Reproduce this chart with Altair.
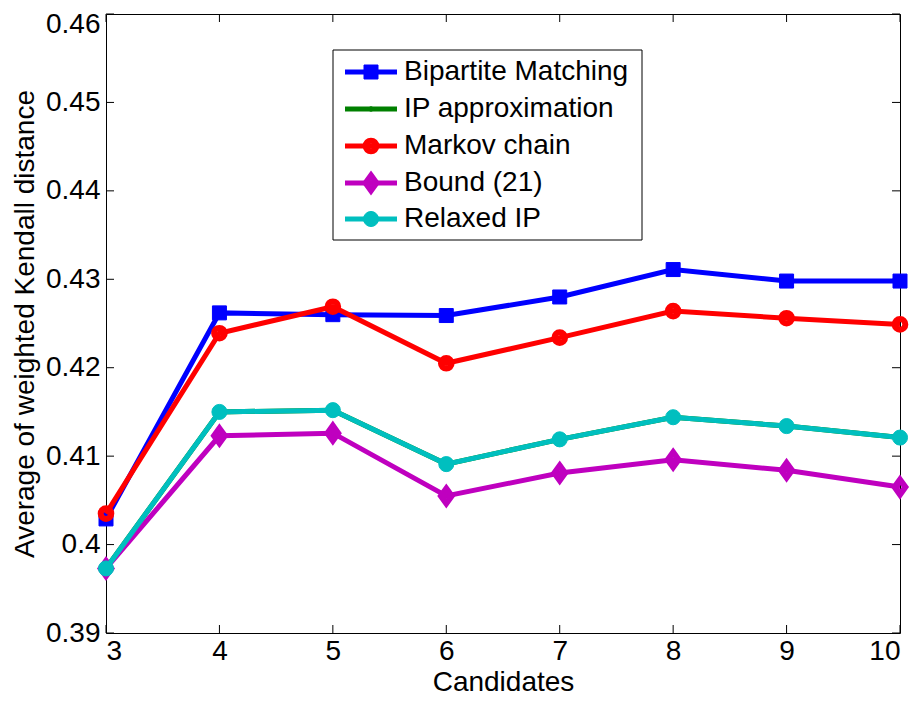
import altair as alt
import pandas as pd

# ---------------- data ----------------
candidates = [3, 4, 5, 6, 7, 8, 9, 10]
series_names = ["Bipartite Matching", "IP approximation", "Markov chain", "Bound (21)", "Relaxed IP"]
bipartite = [0.4029, 0.4262, 0.4260, 0.4259, 0.4280, 0.4311, 0.4298, 0.4298]
ip_approx = [0.3973, 0.4150, 0.4152, 0.4091, 0.4119, 0.4144, 0.4134, 0.4121]
markov = [0.4035, 0.4239, 0.4269, 0.4205, 0.4234, 0.4264, 0.4256, 0.4249]
bound21 = [0.3973, 0.4123, 0.4126, 0.4055, 0.4081, 0.4096, 0.4084, 0.4065]
relaxed = [0.3973, 0.4150, 0.4152, 0.4091, 0.4119, 0.4144, 0.4134, 0.4121]
y_ticks = [0.39, 0.40, 0.41, 0.42, 0.43, 0.44, 0.45, 0.46]
x_ticks = [3, 4, 5, 6, 7, 8, 9, 10]

values = [bipartite, ip_approx, markov, bound21, relaxed]
colors = ["#0000ff", "#008000", "#ff0000", "#bf00bf", "#00bfbf"]

# marker styles: (shape, size, filled, strokeWidth)
DIAMOND = "M0,-1L0.72,0L0,1L-0.72,0Z"
styles = [
    ("square", 196, True, 1),
    ("circle", 20, True, 1),
    ("circle", 113, False, 6),
    (DIAMOND, 219, False, 6),
    ("circle", 227, True, 1),
]

W, H = 794, 619
FONT = "Liberation Sans"
FS = 28

xscale = alt.Scale(domain=[3, 10], nice=False, zero=False)
yscale = alt.Scale(domain=[0.39, 0.46], nice=False, zero=False)

layers = []

# inward tick marks (box style)
ydf = pd.DataFrame({"v": y_ticks})
xdf = pd.DataFrame({"c": x_ticks})
yt = alt.Y("v:Q", scale=yscale, axis=alt.Axis(
    values=y_ticks, format=".2~f", tickSize=0, domain=False, grid=False,
    labelPadding=6, labelOffset=alt.expr("datum.value > 0.455 ? 10 : 0"),
    title="Average of weighted Kendall distance", titlePadding=6))
layers.append(alt.Chart(ydf).mark_rule(color="black", strokeWidth=1).encode(
    y=yt, x=alt.value(0), x2=alt.value(8)))
layers.append(alt.Chart(ydf).mark_rule(color="black", strokeWidth=1).encode(
    y=alt.Y("v:Q", scale=yscale), x=alt.value(W - 8), x2=alt.value(W)))
xt = alt.X("c:Q", scale=xscale, axis=alt.Axis(
    values=x_ticks, format="d", tickSize=0, domain=False, grid=False,
    labelPadding=4, title="Candidates", titlePadding=3))
layers.append(alt.Chart(xdf).mark_rule(color="black", strokeWidth=1).encode(
    x=xt, y=alt.value(H), y2=alt.value(H - 8)))
layers.append(alt.Chart(xdf).mark_rule(color="black", strokeWidth=1).encode(
    x=alt.X("c:Q", scale=xscale), y=alt.value(0), y2=alt.value(8)))

# data series
for name, vals, col, (shape, size, filled, sw) in zip(series_names, values, colors, styles):
    df = pd.DataFrame({"c": candidates, "v": vals, "series": name})
    base = alt.Chart(df).encode(
        x=alt.X("c:Q", scale=xscale),
        y=alt.Y("v:Q", scale=yscale),
    )
    layers.append(base.mark_line(color=col, strokeWidth=5, clip=False))
    if filled:
        pt = base.mark_point(shape=shape, size=size, filled=True, fill=col,
                             stroke=col, strokeWidth=sw, opacity=1, clip=False)
    else:
        pt = base.mark_point(shape=shape, size=size, filled=False, stroke=col,
                             strokeWidth=sw, opacity=1, clip=False)
    layers.append(pt)

# legend (drawn inside the plot area)
box_df = pd.DataFrame({"k": [0]})
layers.append(alt.Chart(box_df).mark_rect(fill="white", stroke="black", strokeWidth=1).encode(
    x=alt.value(227), x2=alt.value(536), y=alt.value(36), y2=alt.value(226)))
row_y = [58, 95, 132, 169, 205]
for name, col, (shape, size, filled, sw), ry in zip(series_names, colors, styles, row_y):
    ldf = pd.DataFrame({"series": [name]})
    lb = alt.Chart(ldf)
    layers.append(lb.mark_rule(color=col, strokeWidth=5).encode(
        x=alt.value(239), x2=alt.value(291), y=alt.value(ry)))
    if filled:
        lp = lb.mark_point(shape=shape, size=size, filled=True, fill=col, stroke=col,
                           strokeWidth=sw, opacity=1)
    else:
        lp = lb.mark_point(shape=shape, size=size, filled=False, stroke=col,
                           strokeWidth=sw, opacity=1)
    layers.append(lp.encode(x=alt.value(265), y=alt.value(ry)))
    layers.append(lb.mark_text(align="left", baseline="middle", font=FONT, fontSize=FS,
                               color="black").encode(
        x=alt.value(298), y=alt.value(ry), text="series:N"))

chart = alt.layer(*layers).properties(
    width=W, height=H,
    autosize=alt.AutoSizeParams(type="none"),
    padding={"left": 98, "top": 6, "right": 12, "bottom": 64},
    background="white",
).configure_view(
    stroke="black", strokeWidth=1
).configure_axis(
    labelFont=FONT, labelFontSize=FS, labelColor="black",
    titleFont=FONT, titleFontSize=FS, titleFontWeight="normal", titleColor="black",
)

chart.save("out.html", embed_options={"renderer": "svg", "actions": False})
